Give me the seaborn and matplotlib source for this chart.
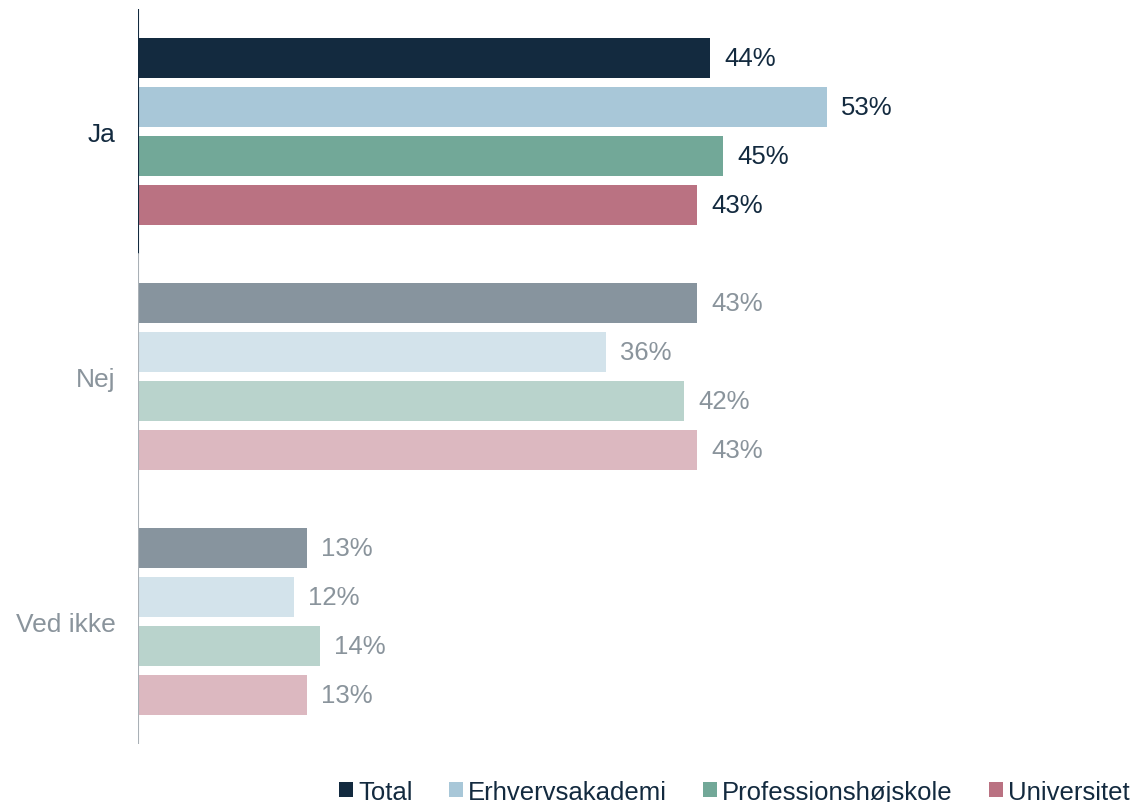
import pandas as pd
import matplotlib.pyplot as plt
import seaborn as sns
from matplotlib.patches import Patch

# Survey answers per institution type
answers = ["Ja", "Nej", "Ved ikke"]
groups = ["Total", "Erhvervsakademi", "Professionshøjskole", "Universitet"]
total = [44, 43, 13]
erhverv = [53, 36, 12]
profession = [45, 42, 14]
universitet = [43, 43, 13]

strong = ["#132a3f", "#a8c7d8", "#72a898", "#ba7282"]
faded = ["#87949e", "#d3e3eb", "#b9d3cc", "#dcb8c0"]
dark_txt = "#132a3f"
gray_txt = "#8a949c"

rows = []
for g, vals in zip(groups, [total, erhverv, profession, universitet]):
    for a, v in zip(answers, vals):
        rows.append({"answer": a, "group": g, "value": v})
df = pd.DataFrame(rows)

sns.set_style("white")
plt.rcParams["font.family"] = ["Liberation Sans", "DejaVu Sans"]

fig = plt.figure(figsize=(11.37, 8.03), dpi=100)
ax = fig.add_axes([138 / 1137, 58 / 803, 999 / 1137, 735 / 803])

sns.barplot(data=df, y="answer", x="value", hue="group", order=answers,
            hue_order=groups, palette=strong, width=0.8, gap=0.2,
            legend=False, ax=ax)

# Highlight the "Ja" answer, fade the rest
for gi, cont in enumerate(ax.containers):
    for ai, bar in enumerate(cont):
        bar.set_facecolor(strong[gi] if ai == 0 else faded[gi])
        bar.set_edgecolor("none")
    labels = ax.bar_label(cont, fmt="%d%%", padding=10, fontsize=18.5)
    for ai, t in enumerate(labels):
        t.set_color(dark_txt if ai == 0 else gray_txt)

ax.set_xlim(0, 76.8)
ax.set_ylim(2.5, -0.5)
ax.set_xlabel("")
ax.set_ylabel("")
ax.set_xticks([])
for s in ax.spines.values():
    s.set_visible(False)
ax.axvline(0, ymin=2 / 3, ymax=1, color=dark_txt, lw=1.5)
ax.axvline(0, ymin=0, ymax=2 / 3, color="#a9b0b6", lw=1.5)

ax.tick_params(axis="y", length=0, pad=16, labelsize=19)
for i, t in enumerate(ax.get_yticklabels()):
    t.set_color(dark_txt if i == 0 else gray_txt)

handles = [Patch(facecolor=c, edgecolor="none") for c in strong]
fig.legend(handles, groups, loc="lower right", bbox_to_anchor=(1.014, -0.031),
           ncol=4, frameon=False, fontsize=18.5, handlelength=0.55,
           handleheight=0.55, handletextpad=0.2, columnspacing=1.4,
           labelcolor=dark_txt)

plt.savefig("out.png", dpi=100)
plt.close()
